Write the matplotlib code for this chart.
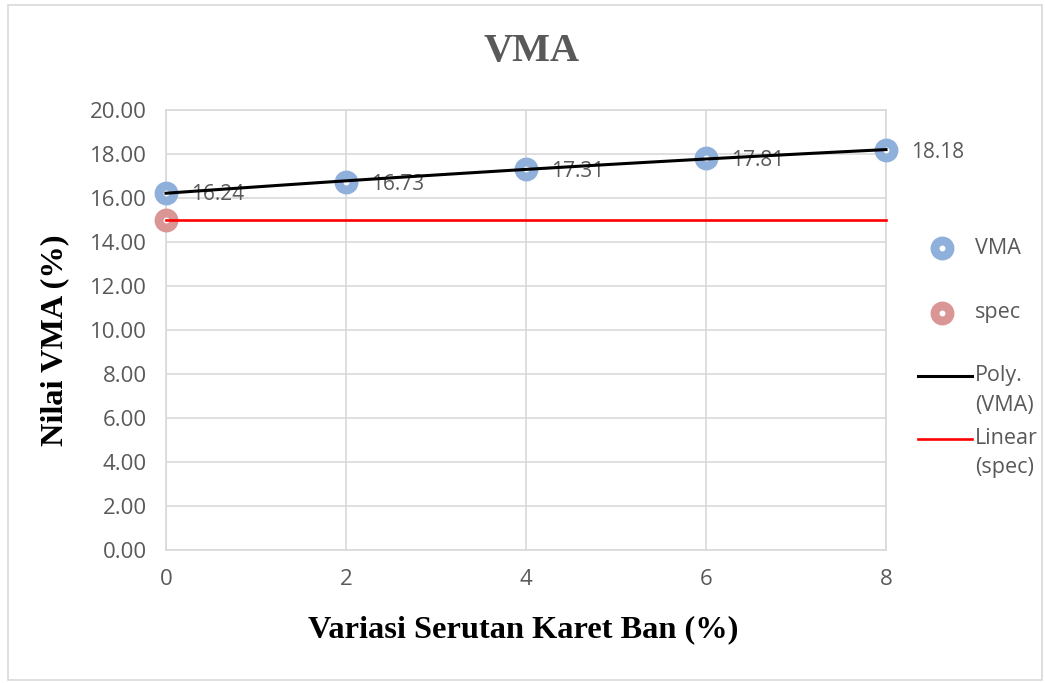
import numpy as np
import matplotlib
matplotlib.use("Agg")
from matplotlib import pyplot as plt
from matplotlib.lines import Line2D
from matplotlib.patches import Rectangle

# data
variasi = [0, 2, 4, 6, 8]
vma = [16.24, 16.73, 17.31, 17.81, 18.18]
spec_x = [0]
spec_y = [15]
yticks = [0, 2, 4, 6, 8, 10, 12, 14, 16, 18, 20]

blue = "#8EB0DA"
pink = "#DA9694"
grid_c = "#D9D9D9"
txt_c = "#595959"
sans = "Open Sans"
serif = "Liberation Serif"

W, H = 1045, 683
fig = plt.figure(figsize=(W / 100, H / 100), dpi=100)
ax = fig.add_axes([166 / W, 1 - 550 / H, 720 / W, 440 / H])

ring = dict(marker="o", ms=10.8, mew=6.4, mfc="white", ls="none", clip_on=False, zorder=3)
ax.plot(variasi, vma, mec=blue, **ring)
ax.plot(spec_x, spec_y, mec=pink, **ring)

# trend lines (2nd order poly of VMA, linear of spec)
xx = np.linspace(0, 8, 100)
coef = np.polyfit(variasi, vma, 2)
ax.plot(xx, np.polyval(coef, xx), color="black", lw=2.2, zorder=4, clip_on=False)
ax.plot([0, 8], [spec_y[0], spec_y[0]], color="red", lw=1.9, zorder=4, clip_on=False)

for x, y in zip(variasi, vma):
    ax.annotate("%.2f" % y, (x, y), xytext=(18, -1.5), textcoords="offset points",
                ha="left", va="center", fontsize=15, color=txt_c, family=sans)

ax.set_xlim(0, 8)
ax.set_ylim(0, 20)
ax.set_xticks(variasi)
ax.set_yticks(yticks)
ax.set_yticklabels(["%.2f" % v for v in yticks])
ax.grid(True, color=grid_c, lw=1.2)
ax.set_axisbelow(True)
for s in ax.spines.values():
    s.set_color(grid_c)
    s.set_linewidth(1.2)
ax.tick_params(length=0, labelsize=16, labelcolor=txt_c, pad=14)
for lab in ax.get_xticklabels() + ax.get_yticklabels():
    lab.set_family(sans)

fig.text(531 / W, 1 - 52 / H, "VMA", ha="center", va="center", fontsize=29,
         fontweight="bold", family=serif, color=txt_c)
fig.text(523 / W, 1 - 630 / H, "Variasi Serutan Karet Ban (%)", ha="center", va="center",
         fontsize=23.3, fontweight="bold", family=serif)
fig.text(55 / W, 1 - 340 / H, "Nilai VMA (%)", ha="center", va="center", rotation=90,
         fontsize=23.3, fontweight="bold", family=serif)

# legend drawn by hand
leg_fs = 15.5
fig.add_artist(Line2D([942 / W], [1 - 248 / H], transform=fig.transFigure, mec=blue, **ring))
fig.text(975 / W, 1 - 248 / H, "VMA", va="center", fontsize=leg_fs, color=txt_c, family=sans)
fig.add_artist(Line2D([942 / W], [1 - 313 / H], transform=fig.transFigure, mec=pink, **ring))
fig.text(975 / W, 1 - 313 / H, "spec", va="center", fontsize=leg_fs, color=txt_c, family=sans)
fig.add_artist(Line2D([918 / W, 972 / W], [1 - 376 / H] * 2, transform=fig.transFigure,
                      color="black", lw=2.2))
fig.text(975 / W, 1 - 376 / H, "Poly.", va="center", fontsize=leg_fs, color=txt_c, family=sans)
fig.text(975 / W, 1 - 405 / H, "(VMA)", va="center", fontsize=leg_fs, color=txt_c, family=sans)
fig.add_artist(Line2D([918 / W, 972 / W], [1 - 439 / H] * 2, transform=fig.transFigure,
                      color="red", lw=1.9))
fig.text(975 / W, 1 - 439 / H, "Linear", va="center", fontsize=leg_fs, color=txt_c, family=sans)
fig.text(975 / W, 1 - 468 / H, "(spec)", va="center", fontsize=leg_fs, color=txt_c, family=sans)

# chart border
fig.add_artist(Rectangle((8 / W, 3 / H), 1034 / W, 675 / H, transform=fig.transFigure,
                         fill=False, edgecolor=grid_c, lw=1.2))

fig.savefig("out.png", dpi=100)
